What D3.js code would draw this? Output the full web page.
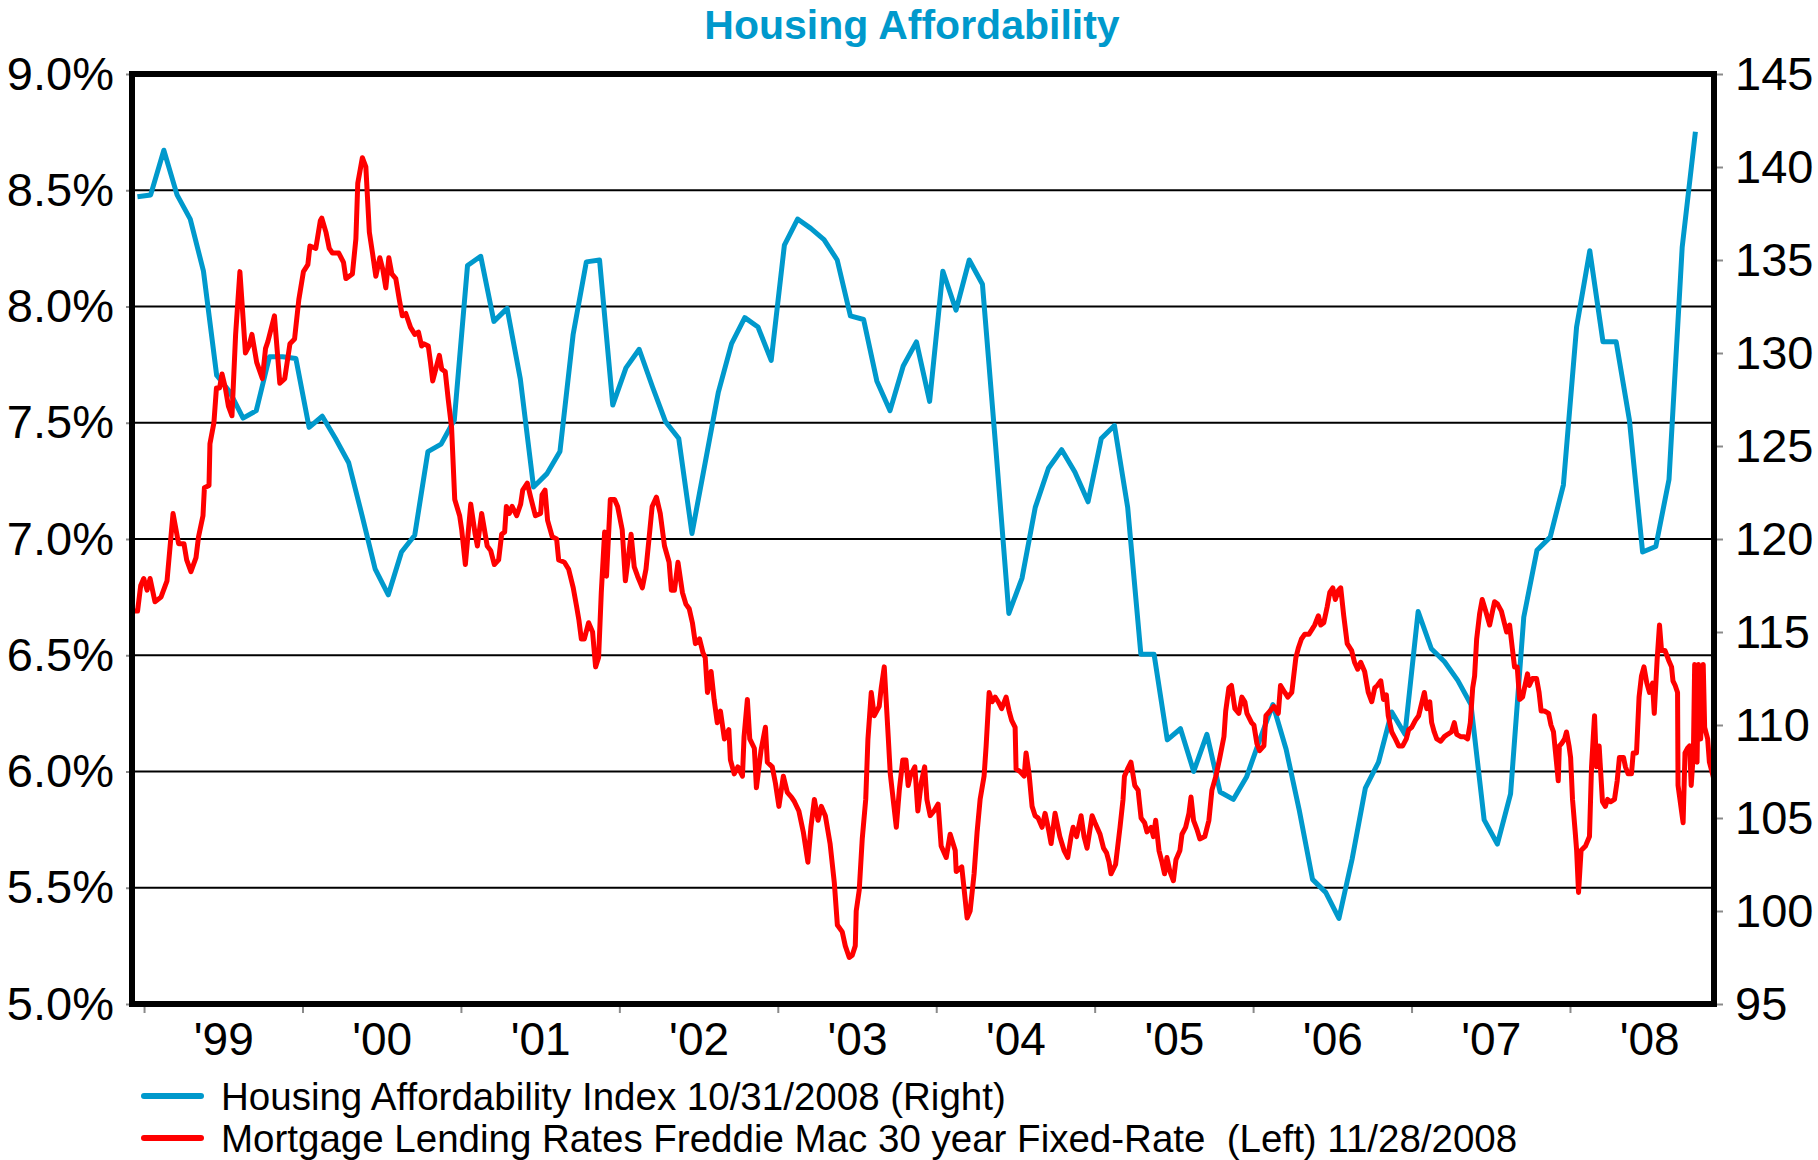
<!DOCTYPE html>
<html>
<head>
<meta charset="utf-8">
<script src="https://cdn.jsdelivr.net/npm/d3@7"></script>
<style>
  body { margin:0; background:#fff; }
  svg text { font-family: "Liberation Sans", Arial, Helvetica, sans-serif; }
</style>
</head>
<body>
<div id="chart"></div>
<script>
var chartTitle = "Housing Affordability"
var years = [1999, 2000, 2001, 2002, 2003, 2004, 2005, 2006, 2007, 2008]
var yearLabels = ["'99", "'00", "'01", "'02", "'03", "'04", "'05", "'06", "'07", "'08"]
var rateTicks = [5.0, 5.5, 6.0, 6.5, 7.0, 7.5, 8.0, 8.5, 9.0]
var indexTicks = [95, 100, 105, 110, 115, 120, 125, 130, 135, 140, 145]
var legendLabels = [
  "Housing Affordability Index 10/31/2008 (Right)",
  "Mortgage Lending Rates Freddie Mac 30 year Fixed-Rate  (Left) 11/28/2008"
]

// monthly index, first value = Dec 1998, last = Oct 2008
var haiStart = { year: 1998, month: 12 }
var haiValues = [
  138.4, 138.5, 140.9, 138.5, 137.2, 134.4, 128.8, 127.9, 126.5, 126.9, 129.8, 129.8,
  129.7, 126.0, 126.6, 125.4, 124.1, 121.3, 118.4, 117.0, 119.3, 120.2, 124.7, 125.1,
  126.4, 134.7, 135.2, 131.7, 132.4, 128.6, 122.8, 123.5, 124.7, 131.0, 134.9, 135.0,
  127.2, 129.2, 130.2, 128.2, 126.3, 125.4, 120.3, 124.1, 127.9, 130.5, 131.9, 131.4,
  129.6, 135.8, 137.2, 136.7, 136.1, 135.0, 132.0, 131.8, 128.5, 126.9, 129.3, 130.6,
  127.4, 134.4, 132.3, 135.0, 133.7, 125.0, 116.0, 117.9, 121.7, 123.8, 124.8, 123.6,
  122.0, 125.4, 126.1, 121.7, 113.8, 113.8, 109.2, 109.8, 107.5, 109.5, 106.4, 106.0,
  107.2, 109.2, 111.1, 108.7, 105.4, 101.7, 101.0, 99.6, 102.8, 106.6, 108.0, 110.7,
  109.5, 116.1, 114.1, 113.4, 112.4, 111.1, 104.9, 103.6, 106.3, 115.8, 119.4, 120.1,
  122.9, 131.4, 135.5, 130.6, 130.6, 126.4, 119.3, 119.6, 123.2, 135.7, 141.9
]

// weekly 30y fixed rate, [decimal year, rate %]
var rateWeeks = [
  [1998.931,6.69],[1998.959,6.69],[1998.979,6.80],[1998.998,6.83],[1999.019,6.78],[1999.038,6.83],[1999.069,6.73],[1999.107,6.75],
  [1999.145,6.82],[1999.183,7.11],[1999.218,6.98],[1999.252,6.98],[1999.269,6.91],[1999.296,6.86],[1999.328,6.92],[1999.344,7.01],
  [1999.372,7.10],[1999.381,7.22],[1999.410,7.23],[1999.416,7.41],[1999.441,7.50],[1999.457,7.65],[1999.477,7.65],[1999.492,7.71],
  [1999.513,7.65],[1999.533,7.57],[1999.555,7.53],[1999.578,7.88],[1999.605,8.15],[1999.640,7.80],[1999.662,7.83],[1999.681,7.88],
  [1999.711,7.76],[1999.747,7.69],[1999.767,7.82],[1999.782,7.85],[1999.823,7.96],[1999.857,7.67],[1999.888,7.69],[1999.921,7.84],
  [1999.950,7.86],[1999.977,8.03],[2000.006,8.15],[2000.034,8.18],[2000.047,8.26],[2000.084,8.25],[2000.113,8.37],[2000.122,8.38],
  [2000.148,8.32],[2000.169,8.25],[2000.189,8.23],[2000.229,8.23],[2000.259,8.19],[2000.274,8.12],[2000.315,8.14],[2000.337,8.29],
  [2000.349,8.53],[2000.378,8.64],[2000.400,8.60],[2000.422,8.32],[2000.442,8.23],[2000.463,8.13],[2000.488,8.21],[2000.507,8.16],
  [2000.526,8.08],[2000.545,8.21],[2000.564,8.14],[2000.589,8.12],[2000.611,8.03],[2000.630,7.96],[2000.652,7.97],[2000.682,7.91],
  [2000.709,7.88],[2000.732,7.89],[2000.752,7.83],[2000.765,7.84],[2000.794,7.83],[2000.808,7.76],[2000.822,7.68],[2000.845,7.74],
  [2000.864,7.79],[2000.879,7.73],[2000.901,7.72],[2000.920,7.60],[2000.941,7.48],[2000.961,7.17],[2000.992,7.10],[2001.005,7.04],
  [2001.028,6.89],[2001.062,7.15],[2001.090,7.02],[2001.104,6.97],[2001.131,7.11],[2001.166,6.97],[2001.188,6.95],[2001.211,6.89],
  [2001.238,6.91],[2001.257,7.02],[2001.276,7.03],[2001.287,7.14],[2001.306,7.11],[2001.323,7.14],[2001.352,7.10],[2001.377,7.15],
  [2001.390,7.21],[2001.419,7.24],[2001.440,7.18],[2001.470,7.10],[2001.503,7.11],[2001.512,7.19],[2001.531,7.21],[2001.547,7.08],
  [2001.576,7.01],[2001.604,7.00],[2001.617,6.91],[2001.653,6.90],[2001.680,6.87],[2001.709,6.79],[2001.730,6.71],[2001.745,6.65],
  [2001.760,6.57],[2001.779,6.57],[2001.806,6.64],[2001.831,6.60],[2001.850,6.45],[2001.869,6.49],[2001.886,6.77],[2001.907,7.03],
  [2001.919,6.84],[2001.943,7.17],[2001.970,7.17],[2001.989,7.14],[2002.018,7.04],[2002.038,6.82],[2002.055,6.91],[2002.074,7.02],
  [2002.094,6.88],[2002.115,6.84],[2002.145,6.79],[2002.168,6.87],[2002.187,7.00],[2002.207,7.14],[2002.234,7.18],[2002.258,7.11],
  [2002.285,6.97],[2002.314,6.90],[2002.328,6.78],[2002.348,6.78],[2002.370,6.90],[2002.398,6.77],[2002.420,6.72],[2002.441,6.70],
  [2002.461,6.64],[2002.480,6.55],[2002.506,6.57],[2002.528,6.51],[2002.542,6.49],[2002.556,6.34],[2002.579,6.43],[2002.598,6.31],
  [2002.618,6.21],[2002.638,6.26],[2002.663,6.14],[2002.691,6.18],[2002.701,6.05],[2002.725,5.99],[2002.748,6.02],[2002.777,5.98],
  [2002.787,6.15],[2002.808,6.31],[2002.823,6.14],[2002.852,6.10],[2002.865,5.93],[2002.894,6.09],[2002.922,6.19],[2002.934,6.04],
  [2002.965,6.02],[2002.985,5.95],[2003.007,5.85],[2003.035,5.98],[2003.060,5.91],[2003.086,5.89],[2003.105,5.87],[2003.133,5.83],
  [2003.161,5.74],[2003.190,5.61],[2003.209,5.76],[2003.231,5.88],[2003.254,5.79],[2003.275,5.85],[2003.300,5.81],[2003.330,5.69],
  [2003.357,5.52],[2003.376,5.34],[2003.407,5.31],[2003.426,5.25],[2003.451,5.20],[2003.470,5.21],[2003.489,5.25],[2003.495,5.40],
  [2003.514,5.49],[2003.533,5.71],[2003.555,5.88],[2003.569,6.14],[2003.590,6.34],[2003.609,6.24],[2003.640,6.28],[2003.653,6.36],
  [2003.672,6.45],[2003.697,6.15],[2003.710,5.99],[2003.748,5.76],[2003.767,5.92],[2003.789,6.05],[2003.809,6.05],[2003.823,5.94],
  [2003.836,5.98],[2003.865,6.02],[2003.884,5.83],[2003.905,5.95],[2003.927,6.02],[2003.941,5.88],[2003.962,5.81],[2003.986,5.83],
  [2004.012,5.86],[2004.031,5.68],[2004.063,5.63],[2004.088,5.73],[2004.120,5.66],[2004.126,5.57],[2004.161,5.59],[2004.175,5.50],
  [2004.195,5.37],[2004.214,5.40],[2004.239,5.56],[2004.258,5.74],[2004.277,5.88],[2004.302,5.98],[2004.315,6.11],[2004.334,6.34],
  [2004.353,6.30],[2004.372,6.32],[2004.391,6.30],[2004.413,6.27],[2004.441,6.32],[2004.460,6.26],[2004.476,6.22],[2004.498,6.19],
  [2004.504,6.01],[2004.529,6.00],[2004.555,5.98],[2004.567,6.08],[2004.586,5.99],[2004.605,5.85],[2004.624,5.81],[2004.643,5.80],
  [2004.668,5.76],[2004.687,5.82],[2004.709,5.75],[2004.725,5.69],[2004.750,5.82],[2004.780,5.72],[2004.807,5.66],[2004.830,5.63],
  [2004.851,5.72],[2004.864,5.76],[2004.886,5.72],[2004.914,5.81],[2004.933,5.72],[2004.952,5.67],[2004.984,5.81],[2005.002,5.78],
  [2005.034,5.73],[2005.056,5.67],[2005.075,5.65],[2005.091,5.61],[2005.103,5.56],[2005.132,5.60],[2005.160,5.76],[2005.179,5.88],
  [2005.188,5.98],[2005.207,6.01],[2005.229,6.04],[2005.253,5.94],[2005.274,5.92],[2005.293,5.80],[2005.315,5.78],[2005.330,5.74],
  [2005.356,5.76],[2005.371,5.72],[2005.385,5.79],[2005.406,5.66],[2005.425,5.61],[2005.441,5.56],[2005.456,5.63],[2005.475,5.57],
  [2005.497,5.53],[2005.513,5.62],[2005.538,5.66],[2005.551,5.73],[2005.574,5.76],[2005.595,5.82],[2005.608,5.89],[2005.624,5.79],
  [2005.646,5.75],[2005.664,5.71],[2005.695,5.72],[2005.721,5.79],[2005.740,5.92],[2005.765,5.98],[2005.787,6.05],[2005.816,6.15],
  [2005.827,6.26],[2005.847,6.36],[2005.863,6.37],[2005.885,6.27],[2005.910,6.25],[2005.929,6.32],[2005.948,6.30],[2005.961,6.25],
  [2005.990,6.21],[2006.005,6.20],[2006.024,6.12],[2006.041,6.09],[2006.068,6.11],[2006.081,6.24],[2006.106,6.26],[2006.131,6.28],
  [2006.159,6.25],[2006.173,6.37],[2006.200,6.34],[2006.219,6.32],[2006.244,6.34],[2006.270,6.49],[2006.285,6.53],[2006.305,6.57],
  [2006.326,6.59],[2006.352,6.59],[2006.371,6.61],[2006.389,6.63],[2006.412,6.67],[2006.427,6.63],[2006.446,6.64],[2006.468,6.71],
  [2006.484,6.77],[2006.503,6.79],[2006.519,6.74],[2006.539,6.78],[2006.553,6.79],[2006.572,6.67],[2006.594,6.55],[2006.622,6.52],
  [2006.640,6.47],[2006.660,6.44],[2006.679,6.47],[2006.704,6.43],[2006.727,6.34],[2006.749,6.30],[2006.768,6.36],[2006.784,6.37],
  [2006.806,6.39],[2006.823,6.31],[2006.841,6.33],[2006.853,6.24],[2006.875,6.17],[2006.898,6.14],[2006.919,6.11],[2006.944,6.11],
  [2006.967,6.14],[2006.982,6.18],[2007.001,6.19],[2007.024,6.22],[2007.045,6.24],[2007.081,6.34],[2007.096,6.27],[2007.115,6.30],
  [2007.127,6.21],[2007.143,6.17],[2007.159,6.14],[2007.184,6.13],[2007.207,6.15],[2007.228,6.16],[2007.252,6.17],[2007.270,6.21],
  [2007.285,6.16],[2007.310,6.15],[2007.332,6.15],[2007.354,6.14],[2007.371,6.21],[2007.386,6.36],[2007.398,6.41],[2007.411,6.57],
  [2007.430,6.68],[2007.446,6.74],[2007.468,6.69],[2007.493,6.63],[2007.508,6.68],[2007.524,6.73],[2007.543,6.72],[2007.567,6.69],
  [2007.600,6.60],[2007.619,6.63],[2007.636,6.53],[2007.650,6.45],[2007.667,6.45],[2007.682,6.31],[2007.701,6.32],[2007.713,6.36],
  [2007.732,6.42],[2007.743,6.37],[2007.764,6.40],[2007.789,6.40],[2007.805,6.34],[2007.818,6.26],[2007.839,6.26],[2007.865,6.25],
  [2007.880,6.20],[2007.896,6.17],[2007.909,6.08],[2007.926,5.96],[2007.933,6.11],[2007.947,6.12],[2007.966,6.14],[2007.978,6.17],
  [2007.994,6.11],[2008.004,6.06],[2008.016,5.88],[2008.033,5.74],[2008.042,5.66],[2008.054,5.48],[2008.070,5.66],[2008.098,5.68],
  [2008.123,5.72],[2008.136,6.02],[2008.155,6.24],[2008.167,6.02],[2008.184,6.11],[2008.205,5.87],[2008.223,5.85],[2008.237,5.88],
  [2008.256,5.87],[2008.281,5.88],[2008.298,5.96],[2008.312,6.06],[2008.338,6.06],[2008.350,6.02],[2008.367,5.99],[2008.388,5.99],
  [2008.399,6.08],[2008.420,6.08],[2008.436,6.32],[2008.451,6.41],[2008.467,6.45],[2008.485,6.38],[2008.502,6.34],[2008.521,6.38],
  [2008.532,6.25],[2008.550,6.48],[2008.565,6.63],[2008.578,6.52],[2008.600,6.52],[2008.622,6.48],[2008.641,6.45],[2008.650,6.39],
  [2008.664,6.37],[2008.679,6.34],[2008.682,5.94],[2008.696,5.87],[2008.714,5.78],[2008.726,6.08],[2008.742,6.10],[2008.755,6.11],
  [2008.765,5.94],[2008.779,6.08],[2008.787,6.46],[2008.802,6.04],[2008.812,6.46],[2008.825,6.14],[2008.841,6.46],[2008.850,6.19],
  [2008.869,6.14],[2008.880,6.04],[2008.907,5.97]
]

var W = 1818, H = 1160
var plot = { left: 132, right: 1714, top: 74, bottom: 1004 }
var blue = "#0099CC", red = "#FF0000", tickGrey = "#8a8a8a"

var svg = d3.select("#chart").append("svg")
    .attr("width", W).attr("height", H)
    .style("background", "#fff")

var x = d3.scaleLinear().domain([1998.924, 2008.909]).range([plot.left, plot.right])
var yRate = d3.scaleLinear().domain([5, 9]).range([plot.bottom, plot.top])
var yIndex = d3.scaleLinear().domain([95, 145]).range([plot.bottom, plot.top])

// title
svg.append("text")
    .attr("x", 912).attr("y", 39)
    .attr("text-anchor", "middle")
    .attr("font-size", 41).attr("font-weight", "bold")
    .attr("fill", blue)
    .text(chartTitle)

// horizontal gridlines (inner ones, the frame covers top/bottom)
svg.append("g").selectAll("line")
    .data(rateTicks.slice(1, -1))
    .enter().append("line")
    .attr("x1", plot.left).attr("x2", plot.right)
    .attr("y1", d => yRate(d)).attr("y2", d => yRate(d))
    .attr("stroke", "#000").attr("stroke-width", 2)

// axes
var styleAxis = (g, size) => {
  g.select(".domain").remove()
  g.selectAll(".tick line").attr("stroke", tickGrey).attr("stroke-width", 2)
  g.selectAll(".tick text").attr("font-size", size).attr("fill", "#000")
    .attr("font-family", '"Liberation Sans", Arial, sans-serif')
}

svg.append("g")
    .attr("transform", `translate(${plot.left},0)`)
    .call(d3.axisLeft(yRate).tickValues(rateTicks).tickSize(6).tickPadding(12)
      .tickFormat(d => d.toFixed(1) + "%"))
    .call(g => styleAxis(g, 47))

svg.append("g")
    .attr("transform", `translate(${plot.right},0)`)
    .call(d3.axisRight(yIndex).tickValues(indexTicks).tickSize(9).tickPadding(12))
    .call(g => styleAxis(g, 47))

// year boundary ticks
svg.append("g")
    .attr("transform", `translate(0,${plot.bottom})`)
    .call(d3.axisBottom(x).tickValues(years).tickSize(9).tickFormat(""))
    .call(g => styleAxis(g, 46))

// year labels sit mid-year
svg.append("g")
    .attr("transform", `translate(0,${plot.bottom})`)
    .call(d3.axisBottom(x).tickValues(years.map(y => y + 0.5)).tickSize(0).tickPadding(18)
      .tickFormat((d, i) => yearLabels[i]))
    .call(g => styleAxis(g, 46))

// series
var haiData = haiValues.map((v, i) => {
  var m = haiStart.month - 1 + i
  return [haiStart.year + (m + 0.5) / 12, v]
})

svg.append("path")
    .datum(haiData)
    .attr("fill", "none").attr("stroke", blue)
    .attr("stroke-width", 5).attr("stroke-linejoin", "round")
    .attr("d", d3.line().x(d => x(d[0])).y(d => yIndex(d[1])))

svg.append("path")
    .datum(rateWeeks)
    .attr("fill", "none").attr("stroke", red)
    .attr("stroke-width", 5).attr("stroke-linejoin", "round")
    .attr("d", d3.line().x(d => x(d[0])).y(d => yRate(d[1])))

// frame
svg.append("rect")
    .attr("x", plot.left).attr("y", plot.top)
    .attr("width", plot.right - plot.left).attr("height", plot.bottom - plot.top)
    .attr("fill", "none").attr("stroke", "#000").attr("stroke-width", 6)

// legend
var leg = svg.append("g").selectAll("g")
    .data([{ c: blue, t: legendLabels[0] }, { c: red, t: legendLabels[1] }])
    .enter().append("g")
    .attr("transform", (d, i) => `translate(0,${1096 + i * 42})`)

leg.append("line")
    .attr("x1", 144).attr("x2", 201).attr("y1", 0).attr("y2", 0)
    .attr("stroke", d => d.c).attr("stroke-width", 6).attr("stroke-linecap", "round")

leg.append("text")
    .attr("x", 221).attr("y", 14)
    .attr("font-size", 38.5).attr("fill", "#000")
    .style("white-space", "pre")
    .text(d => d.t)
</script>
</body>
</html>
